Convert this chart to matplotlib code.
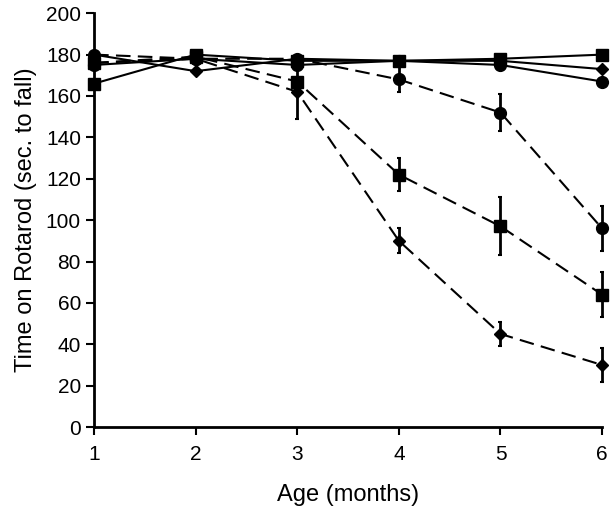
import numpy as np
import matplotlib.pyplot as plt

plt.rcParams['font.family'] = ['Liberation Sans', 'DejaVu Sans']

age = [1, 2, 3, 4, 5, 6]

# controls (solid lines)
ctrl_circle = [175, 178, 175, 177, 175, 167]
ctrl_square = [166, 180, 177, 177, 178, 180]
ctrl_diamond = [180, 172, 178, 177, 177, 173]

# mutants (dashed lines)
mut_circle = [180, 178, 178, 168, 152, 96]
mut_circle_err = [0, 0, 0, 6, 9, 11]
mut_square = [176, 179, 167, 122, 97, 64]
mut_square_err = [0, 0, 0, 8, 14, 11]
mut_diamond = [176, 178, 162, 90, 45, 30]
mut_diamond_err = [0, 0, 13, 6, 6, 8]

fig = plt.figure(figsize=(6.15, 5.09), dpi=100)
ax = fig.add_axes([0.153, 0.161, 0.826, 0.813])

solid = dict(color='black', lw=1.5, clip_on=False)
ax.plot(age, ctrl_circle, marker='o', ms=8.5, **solid)
ax.plot(age, ctrl_square, marker='s', ms=8, **solid)
ax.plot(age, ctrl_diamond, marker='D', ms=6.5, **solid)

dashed = dict(color='black', lw=1.5, ls=(0, (7, 3.5)), capsize=1.5,
              elinewidth=2, capthick=1.5, clip_on=False)
ax.errorbar(age, mut_circle, yerr=mut_circle_err, marker='o', ms=8.5, **dashed)
ax.errorbar(age, mut_square, yerr=mut_square_err, marker='s', ms=8, **dashed)
ax.errorbar(age, mut_diamond, yerr=mut_diamond_err, marker='D', ms=6.5, **dashed)

ax.set_xlim(1, 6)
ax.set_ylim(0, 200)
ax.set_xticks(age)
ax.set_yticks(np.arange(0, 201, 20))

ax.spines['top'].set_visible(False)
ax.spines['right'].set_visible(False)
for s in ('left', 'bottom'):
    ax.spines[s].set_linewidth(2)
ax.tick_params(direction='out', length=6, width=1.5, labelsize=15)
ax.tick_params(axis='x', pad=7)

ax.set_xlabel("Age (months)", size=17, labelpad=14)
ax.set_ylabel("Time on Rotarod (sec. to fall)", size=17, labelpad=6)

fig.savefig('out.png', dpi=100)
